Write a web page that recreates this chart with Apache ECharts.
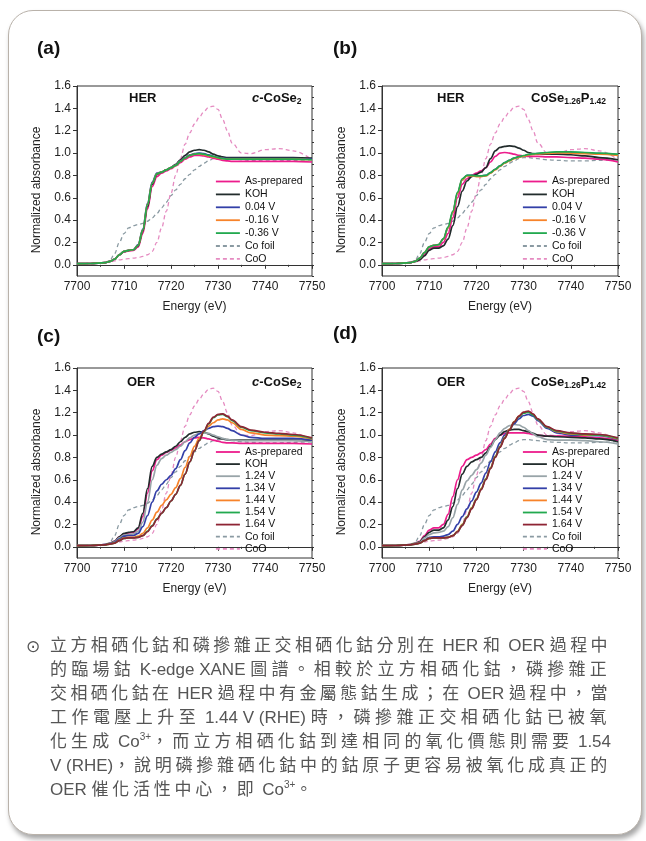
<!DOCTYPE html>
<html>
<head>
<meta charset="utf-8">
<script src="https://cdn.jsdelivr.net/npm/echarts@6/dist/echarts.min.js"></script>
<style>
  html, body { margin:0; padding:0; background:#fff; width:646px; height:841px; overflow:hidden; }
  #card { position:absolute; left:8px; top:10px; width:632px; height:823px; border:1px solid #b9b2aa; border-radius:25px; box-shadow: 2px 4px 5px rgba(0,0,0,0.35); background:#fff; }
  #chart { position:absolute; left:0; top:0; width:646px; height:841px; }
  #bullet { position:absolute; left:26px; top:634px; font: 17px 'DejaVu Sans', 'Noto Sans CJK TC'; line-height:24px; color:#555; }
  #cap { position:absolute; left:50px; top:634px; width:600px; font-family:'Liberation Sans','Noto Sans CJK TC',sans-serif; font-size:17px; line-height:24px; color:#555; }
  #cap div { white-space:nowrap; }
  #cap sup { font-size:10px; line-height:0; vertical-align:7px; }
</style>
</head>
<body>
<div id="card"></div>
<div id="chart"></div>
<div id="bullet">⊙</div>
<div id="cap">
  <div>立方相硒化鈷和磷摻雜正交相硒化鈷分別在 HER 和 OER 過程中</div>
  <div>的臨場鈷 K-edge XANE 圖譜。相較於立方相硒化鈷，磷摻雜正</div>
  <div>交相硒化鈷在 HER 過程中有金屬態鈷生成；在 OER 過程中，當</div>
  <div>工作電壓上升至 1.44 V (RHE) 時，磷摻雜正交相硒化鈷已被氧</div>
  <div>化生成 Co<sup>3+</sup>，而立方相硒化鈷到達相同的氧化價態則需要 1.54</div>
  <div>V (RHE)，說明磷摻雜硒化鈷中的鈷原子更容易被氧化成真正的</div>
  <div class="last">OER 催化活性中心，即 Co<sup>3+</sup>。</div>
</div>
<script>
// ---------------- DATA ----------------
const energy = [7700,7703,7706,7707,7708,7709,7710,7711,7712,7713,7714,7715,7716,7717,7718,7719,7720,7721,7722,7723,7724,7725,7726,7727,7728,7729,7730,7731,7732,7733,7735,7737,7740,7743,7746,7750];

const xTicks = [7700,7710,7720,7730,7740,7750];
const yTicks = [0.0,0.2,0.4,0.6,0.8,1.0,1.2,1.4,1.6];

// reference spectra (same in every panel)
const coFoil = [0.01,0.012,0.02,0.04,0.10,0.20,0.28,0.33,0.35,0.36,0.37,0.39,0.42,0.46,0.51,0.56,0.62,0.67,0.72,0.77,0.81,0.85,0.88,0.91,0.93,0.95,0.96,0.96,0.955,0.95,0.94,0.935,0.93,0.93,0.935,0.94];
const coO    = [0.01,0.012,0.02,0.025,0.035,0.045,0.05,0.055,0.06,0.065,0.075,0.09,0.12,0.20,0.33,0.48,0.64,0.80,0.95,1.08,1.18,1.26,1.32,1.37,1.41,1.42,1.39,1.30,1.20,1.09,1.00,0.995,1.03,1.04,1.02,0.94];

// (a) HER c-CoSe2
const a_asPrepared = [0.01,0.012,0.02,0.03,0.05,0.09,0.115,0.125,0.13,0.16,0.28,0.50,0.70,0.79,0.82,0.84,0.86,0.885,0.915,0.945,0.965,0.98,0.98,0.975,0.965,0.955,0.945,0.935,0.93,0.925,0.925,0.925,0.925,0.925,0.925,0.92];
const a_koh        = [0.01,0.012,0.02,0.03,0.05,0.09,0.12,0.13,0.135,0.17,0.30,0.52,0.72,0.81,0.83,0.85,0.87,0.90,0.94,0.98,1.01,1.025,1.03,1.025,1.01,0.99,0.975,0.965,0.96,0.96,0.96,0.96,0.96,0.96,0.96,0.955];
const a_v004       = [0.01,0.012,0.02,0.03,0.05,0.09,0.12,0.13,0.135,0.18,0.32,0.55,0.74,0.82,0.83,0.85,0.87,0.895,0.93,0.96,0.985,0.995,1.00,0.995,0.985,0.97,0.96,0.955,0.95,0.95,0.95,0.95,0.95,0.95,0.95,0.945];
const a_vm016      = [0.01,0.012,0.02,0.03,0.05,0.09,0.12,0.13,0.135,0.175,0.31,0.54,0.73,0.815,0.83,0.85,0.87,0.89,0.925,0.955,0.98,0.99,0.99,0.985,0.975,0.965,0.955,0.95,0.945,0.945,0.945,0.945,0.945,0.945,0.945,0.94];
const a_vm036      = [0.01,0.012,0.02,0.03,0.05,0.09,0.12,0.13,0.135,0.175,0.31,0.54,0.73,0.815,0.83,0.85,0.87,0.89,0.925,0.955,0.98,0.99,0.995,0.99,0.98,0.97,0.96,0.95,0.945,0.945,0.945,0.945,0.945,0.945,0.945,0.94];

// (b) HER CoSe1.26P1.42
const b_asPrepared = [0.01,0.012,0.02,0.03,0.05,0.09,0.14,0.16,0.16,0.20,0.28,0.42,0.60,0.72,0.77,0.80,0.82,0.84,0.87,0.92,0.97,1.00,1.005,1.00,0.99,0.98,0.975,0.97,0.97,0.97,0.965,0.965,0.96,0.955,0.945,0.92];
const b_koh        = [0.01,0.012,0.02,0.03,0.045,0.08,0.13,0.15,0.15,0.17,0.23,0.35,0.52,0.66,0.75,0.79,0.81,0.83,0.87,0.95,1.02,1.05,1.06,1.065,1.06,1.045,1.025,1.005,0.995,0.99,0.99,0.99,0.985,0.975,0.96,0.94];
const b_v004       = [0.01,0.012,0.02,0.03,0.06,0.11,0.16,0.175,0.18,0.23,0.33,0.47,0.64,0.76,0.80,0.80,0.795,0.795,0.80,0.825,0.855,0.885,0.915,0.935,0.955,0.965,0.975,0.985,0.99,0.995,1.00,1.005,1.005,1.00,0.995,0.985];
const b_vm016      = [0.01,0.012,0.02,0.03,0.06,0.11,0.16,0.175,0.18,0.23,0.33,0.47,0.64,0.76,0.795,0.795,0.79,0.79,0.795,0.82,0.85,0.88,0.91,0.93,0.95,0.962,0.972,0.982,0.988,0.992,0.998,1.002,1.00,0.995,0.99,0.98];
const b_vm036      = [0.01,0.012,0.02,0.03,0.06,0.11,0.16,0.175,0.18,0.235,0.34,0.48,0.65,0.77,0.80,0.80,0.795,0.795,0.80,0.825,0.855,0.885,0.915,0.935,0.955,0.968,0.978,0.988,0.993,0.998,1.005,1.01,1.01,1.005,1.00,0.99];

// (c) OER c-CoSe2
const c_asPrepared = [0.01,0.012,0.02,0.03,0.05,0.09,0.115,0.125,0.13,0.16,0.27,0.48,0.68,0.78,0.82,0.845,0.865,0.885,0.91,0.94,0.96,0.975,0.98,0.975,0.965,0.955,0.945,0.935,0.93,0.93,0.925,0.925,0.925,0.925,0.925,0.92];
const c_koh        = [0.01,0.012,0.02,0.03,0.05,0.09,0.12,0.13,0.135,0.17,0.30,0.52,0.72,0.80,0.83,0.85,0.87,0.90,0.94,0.98,1.01,1.025,1.03,1.025,1.01,0.99,0.975,0.965,0.96,0.955,0.955,0.955,0.955,0.955,0.955,0.95];
const c_v124       = [0.01,0.012,0.02,0.03,0.045,0.08,0.105,0.11,0.115,0.14,0.22,0.40,0.60,0.73,0.79,0.82,0.845,0.87,0.90,0.94,0.975,1.00,1.015,1.02,1.015,1.00,0.985,0.97,0.96,0.955,0.95,0.95,0.95,0.95,0.95,0.94];
const c_v134       = [0.01,0.012,0.02,0.028,0.04,0.07,0.095,0.10,0.10,0.12,0.18,0.28,0.40,0.50,0.56,0.60,0.64,0.70,0.78,0.86,0.93,0.98,1.01,1.04,1.06,1.075,1.08,1.075,1.06,1.04,1.00,0.98,0.97,0.97,0.97,0.955];
const c_v144       = [0.01,0.012,0.018,0.025,0.035,0.06,0.08,0.085,0.085,0.095,0.12,0.17,0.24,0.31,0.37,0.42,0.47,0.53,0.61,0.71,0.81,0.90,0.97,1.03,1.08,1.11,1.135,1.145,1.135,1.11,1.05,1.02,1.00,0.995,0.99,0.965];
const c_v154       = [0.01,0.012,0.018,0.025,0.033,0.055,0.075,0.08,0.08,0.085,0.10,0.14,0.19,0.25,0.30,0.35,0.41,0.47,0.55,0.65,0.76,0.86,0.95,1.03,1.10,1.155,1.18,1.185,1.165,1.13,1.07,1.04,1.02,1.01,1.00,0.97];
const c_v164       = [0.01,0.012,0.018,0.025,0.033,0.055,0.075,0.08,0.08,0.085,0.10,0.135,0.185,0.245,0.30,0.35,0.41,0.47,0.55,0.65,0.76,0.86,0.95,1.035,1.105,1.16,1.185,1.19,1.17,1.135,1.075,1.045,1.025,1.015,1.005,0.975];

// (d) OER CoSe1.26P1.42
const d_asPrepared = [0.01,0.012,0.02,0.03,0.05,0.10,0.15,0.17,0.17,0.20,0.29,0.45,0.60,0.72,0.78,0.80,0.82,0.84,0.87,0.92,0.97,1.00,1.015,1.02,1.02,1.02,1.02,1.015,1.005,1.00,0.99,0.99,0.99,0.985,0.975,0.95];
const d_koh        = [0.01,0.012,0.02,0.03,0.045,0.09,0.13,0.15,0.15,0.17,0.24,0.36,0.52,0.65,0.72,0.76,0.78,0.80,0.84,0.90,0.96,1.00,1.03,1.045,1.05,1.05,1.04,1.03,1.015,1.00,0.99,0.985,0.98,0.975,0.965,0.94];
const d_v124       = [0.01,0.012,0.02,0.028,0.04,0.08,0.11,0.125,0.13,0.14,0.18,0.26,0.38,0.51,0.59,0.64,0.69,0.75,0.82,0.89,0.96,1.02,1.06,1.085,1.095,1.09,1.07,1.04,1.01,0.985,0.96,0.955,0.955,0.95,0.94,0.92];
const d_v134       = [0.01,0.012,0.018,0.025,0.035,0.06,0.085,0.09,0.09,0.095,0.11,0.14,0.20,0.27,0.34,0.41,0.49,0.57,0.66,0.76,0.85,0.93,1.00,1.05,1.10,1.145,1.175,1.185,1.17,1.13,1.06,1.02,1.00,1.00,0.995,0.96];
const d_v144       = [0.01,0.012,0.018,0.025,0.033,0.055,0.075,0.08,0.08,0.08,0.085,0.10,0.14,0.20,0.27,0.35,0.43,0.52,0.61,0.71,0.81,0.90,0.98,1.05,1.12,1.17,1.20,1.21,1.185,1.14,1.07,1.03,1.01,1.00,1.00,0.965];
const d_v154       = [0.01,0.012,0.018,0.025,0.033,0.055,0.075,0.08,0.08,0.08,0.085,0.10,0.135,0.195,0.265,0.345,0.425,0.515,0.605,0.705,0.805,0.895,0.975,1.045,1.115,1.165,1.195,1.205,1.18,1.14,1.07,1.035,1.015,1.005,1.00,0.97];
const d_v164       = [0.01,0.012,0.018,0.025,0.033,0.055,0.075,0.08,0.08,0.08,0.085,0.10,0.135,0.19,0.26,0.34,0.42,0.51,0.60,0.70,0.80,0.89,0.97,1.045,1.115,1.17,1.205,1.215,1.19,1.145,1.075,1.04,1.02,1.01,1.005,0.975];

// ---------------- CAPTION FIT (CJK letter-spacing only) ----------------
(function fitCaption(){
  const target = 561;
  const rows = Array.from(document.querySelectorAll('#cap > div'));
  let lastSp = 3;
  rows.forEach((row) => {
    row.innerHTML = '<span class="w">' + row.innerHTML.replace(/([\u3000-\u303f\u4e00-\u9fff\uff00-\uffef]+)/g, '<span class="cj">$1</span>') + '</span>';
    const cj = Array.from(row.querySelectorAll('.cj'));
    const n = cj.reduce((s, e) => s + e.textContent.length, 0);
    const w = row.querySelector('.w').getBoundingClientRect().width;
    let sp = lastSp;
    if (!row.classList.contains('last') && n > 0) { sp = (target - w) / n; lastSp = sp; }
    cj.forEach(e => e.style.letterSpacing = sp + 'px');
  });
})();

// ---------------- STYLE ----------------
const COL = {
  asPrepared:'#ec1c8c', koh:'#222c2c', blue:'#3340a8', orange:'#f7832a',
  green:'#22a94f', darkred:'#8e2434', gray:'#98a4a8', coFoil:'#8a9aa2', coO:'#e58bc1'
};
const FONT = "'Liberation Sans', Arial, sans-serif";

const grids = [
  {left:77,  top:86,  width:235, height:190},
  {left:382, top:86,  width:236, height:190},
  {left:77,  top:368, width:235, height:190},
  {left:382, top:368, width:236, height:190}
];

const panels = [
  { lines:[['As-prepared',a_asPrepared,COL.asPrepared],['KOH',a_koh,COL.koh],['0.04 V',a_v004,COL.blue],['-0.16 V',a_vm016,COL.orange],['-0.36 V',a_vm036,COL.green]] },
  { lines:[['As-prepared',b_asPrepared,COL.asPrepared],['KOH',b_koh,COL.koh],['0.04 V',b_v004,COL.blue],['-0.16 V',b_vm016,COL.orange],['-0.36 V',b_vm036,COL.green]] },
  { lines:[['As-prepared',c_asPrepared,COL.asPrepared],['KOH',c_koh,COL.koh],['1.24 V',c_v124,COL.gray],['1.34 V',c_v134,COL.blue],['1.44 V',c_v144,COL.orange],['1.54 V',c_v154,COL.green],['1.64 V',c_v164,COL.darkred]] },
  { lines:[['As-prepared',d_asPrepared,COL.asPrepared],['KOH',d_koh,COL.koh],['1.24 V',d_v124,COL.gray],['1.34 V',d_v134,COL.blue],['1.44 V',d_v144,COL.orange],['1.54 V',d_v154,COL.green],['1.64 V',d_v164,COL.darkred]] }
];

const xAxes = [], yAxes = [], series = [], legends = [];
const axisCol = '#333';

grids.forEach((g, gi) => {
  xAxes.push({
    type:'value', gridIndex:gi, min:7700, max:7750, interval:10,
    axisLine:{show:true, lineStyle:{color:axisCol, width:1}},
    axisTick:{show:true, inside:false, length:4, lineStyle:{color:axisCol}},
    minorTick:{show:true, splitNumber:2, length:2, lineStyle:{color:axisCol}},
    splitLine:{show:false},
    axisLabel:{fontSize:12, fontFamily:FONT, color:'#222', margin:5, formatter:(v)=>String(v)},
    name:'Energy (eV)', nameLocation:'middle', nameGap:25,
    nameTextStyle:{fontSize:12, fontFamily:FONT, color:'#222'}
  });
  yAxes.push({
    type:'value', gridIndex:gi, min:-0.1, max:1.6, interval:0.1,
    axisLine:{show:true, lineStyle:{color:axisCol, width:1}},
    axisTick:{show:true, inside:false, length:4, customValues:yTicks, lineStyle:{color:axisCol}},
    splitLine:{show:false},
    axisLabel:{fontSize:12, fontFamily:FONT, color:'#222', margin:6, customValues:yTicks,
      formatter:(v)=>v.toFixed(1)}
  });
  yAxes.push({
    type:'value', gridIndex:gi, min:-0.1, max:1.6, interval:0.1,
    axisLine:{show:false},
    axisTick:{show:true, inside:false, length:2, lineStyle:{color:axisCol}},
    splitLine:{show:false}, axisLabel:{show:false}
  });

  const mk = (arr) => energy.map((e, i) => [e, arr[i]]);
  series.push({
    name:'Co foil', type:'line', xAxisIndex:gi, yAxisIndex:gi*2, data:mk(coFoil),
    symbol:'none', smooth:0.35, smoothMonotone:'x', z:2,
    lineStyle:{color:COL.coFoil, width:1.3, type:[4,3]}, itemStyle:{color:COL.coFoil}
  });
  series.push({
    name:'CoO', type:'line', xAxisIndex:gi, yAxisIndex:gi*2, data:mk(coO),
    symbol:'none', smooth:0.35, smoothMonotone:'x', z:2,
    lineStyle:{color:COL.coO, width:1.3, type:[4,3]}, itemStyle:{color:COL.coO}
  });
  panels[gi].lines.forEach((ln, li) => {
    series.push({
      name:ln[0], type:'line', xAxisIndex:gi, yAxisIndex:gi*2, data:mk(ln[1]),
      symbol:'none', smooth:0.35, smoothMonotone:'x', z:3+li,
      lineStyle:{color:ln[2], width:1.7}, itemStyle:{color:ln[2]}
    });
  });

  const names = panels[gi].lines.map(l => l[0]).concat(['Co foil','CoO']);
  const isTop = gi < 2;
  legends.push({
    orient:'vertical', left: (gi % 2 === 0) ? 215 : 522, top: isTop ? 176 : 446.5,
    itemWidth:24, itemHeight:10, itemGap: isTop ? 1.9 : 1.1,
    selectedMode:false, padding:0,
    itemStyle:{opacity:0},
    lineStyle:{width:1.8},
    textStyle:{fontSize:10.5, fontFamily:FONT, color:'#111', lineHeight:10},
    data:names
  });
});

const T = (x, y, rich, text) => ({
  type:'text', x:x, y:y, z:100,
  style:{ text:text, rich:rich, verticalAlign:'middle', align:'left' }
});
const B = {fontSize:13, fontWeight:'bold', fontFamily:FONT, fill:'#111', lineHeight:16, verticalAlign:'middle'};
const richTitle = {
  b: B,
  i: Object.assign({}, B, {fontStyle:'italic'}),
  s: {fontSize:8.5, fontWeight:'bold', fontFamily:FONT, fill:'#111', lineHeight:9, verticalAlign:'bottom'}
};
const richLbl = { p:{fontSize:19, fontWeight:'bold', fontFamily:FONT, fill:'#111'} };

const yName = (x, y) => ({
  type:'text', x:x, y:y, rotation:Math.PI/2, z:100,
  style:{ text:'Normalized absorbance', font:"12px 'Liberation Sans', Arial, sans-serif", fill:'#222', align:'center', verticalAlign:'middle' }
});

const graphics = [
  T(37, 49, richLbl, '{p|(a)}'),
  T(333, 49, richLbl, '{p|(b)}'),
  T(37, 337, richLbl, '{p|(c)}'),
  T(333, 334, richLbl, '{p|(d)}'),
  T(129, 98, richTitle, '{b|HER}'),
  T(252, 98, richTitle, '{i|c}{b|-CoSe}{s|2}'),
  T(437, 98, richTitle, '{b|HER}'),
  T(531, 98, richTitle, '{b|CoSe}{s|1.26}{b|P}{s|1.42}'),
  T(127, 382, richTitle, '{b|OER}'),
  T(252, 382, richTitle, '{i|c}{b|-CoSe}{s|2}'),
  T(437, 382, richTitle, '{b|OER}'),
  T(531, 382, richTitle, '{b|CoSe}{s|1.26}{b|P}{s|1.42}'),
  yName(37, 190), yName(342, 190), yName(37, 472), yName(342, 472)
];

const chart = echarts.init(document.getElementById('chart'), null, {renderer:'canvas'});
chart.setOption({
  animation:false,
  backgroundColor:'transparent',
  grid: grids.map(g => Object.assign({show:true, borderColor:axisCol, borderWidth:1, backgroundColor:'transparent'}, g)),
  xAxis: xAxes,
  yAxis: yAxes,
  legend: legends,
  graphic: graphics,
  series: series
});
</script>
</body>
</html>
